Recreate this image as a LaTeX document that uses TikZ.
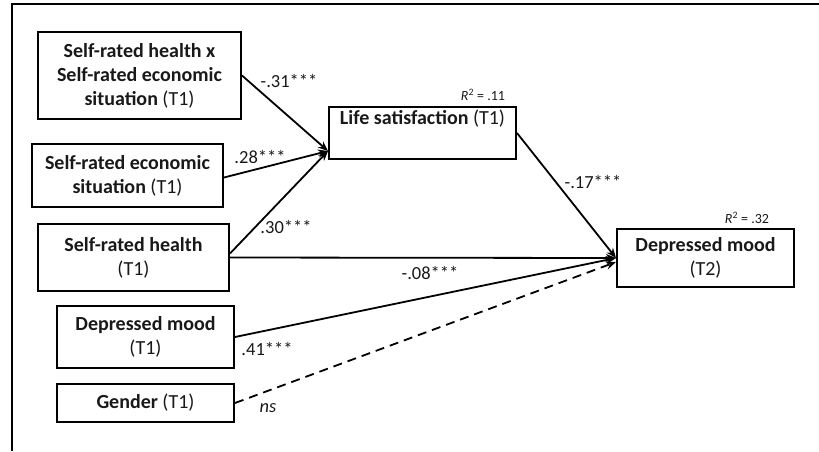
\documentclass[tikz,border=0pt]{standalone}
\usepackage{fontspec}
\setmainfont{Carlito}
\usetikzlibrary{arrows.meta}
\tikzset{
  box/.style={draw=black, line width=2pt, align=center, inner sep=0pt,
    font=\fontsize{20}{24}\selectfont, text=black!90},
  coef/.style={font=\fontsize{18.5}{20}\selectfont, text=black!90, inner sep=0pt},
  rsq/.style={font=\fontsize{14}{16}\selectfont, text=black!90, inner sep=0pt},
  path/.style={line width=1.8pt, -{Stealth[length=10pt,width=8pt]}},
}
\begin{document}
\begin{tikzpicture}[x=1pt,y=-1pt]
\useasboundingbox (0,0) rectangle (819,451);
\draw[line width=1.4pt] (12,451) -- (12,4) -- (819,4);

\node[box, minimum width=203pt, minimum height=87pt] (b1) at (139.5,75.5)
  {\textbf{Self-rated health x}\\\textbf{Self-rated economic}\\\textbf{situation} (T1)};
\node[box, minimum width=191pt, minimum height=63pt] (b2) at (127.5,175.5)
  {\textbf{Self-rated economic}\\\textbf{situation} (T1)};
\node[box, minimum width=191pt, minimum height=67pt] (b3) at (133.5,257.5)
  {\textbf{Self-rated health}\\(T1)};
\node[box, minimum width=177pt, minimum height=62pt] (b4) at (145.5,337)
  {\textbf{Depressed mood}\\(T1)};
\node[box, minimum width=177pt, minimum height=38pt] (b5) at (145.5,403)
  {\textbf{Gender} (T1)};
\node[box, minimum width=187pt, minimum height=52pt] (ls) at (422.5,133)
  {\textbf{Life satisfaction} (T1)\\\strut};
\node[box, minimum width=177pt, minimum height=58pt] (dm) at (705.5,258)
  {\textbf{Depressed mood}\\(T2)};

\node[rsq] (r1) at (483,95) {\textit{R}\textsuperscript{2} = .11};
\node[rsq] (r2) at (747,218) {\textit{R}\textsuperscript{2} = .32};

\draw[path] (b1.east) -- ([yshift=-18pt]ls.west);
\draw[path] ([yshift=-2pt]b2.east) -- ([yshift=-18pt]ls.west);
\draw[path] ([yshift=4pt]b3.east) -- ([yshift=-18pt]ls.west);
\draw[path] (b3.east) -- (dm.west);
\draw[path] (b4.east) -- (dm.west);
\draw[path, dashed, dash pattern=on 9pt off 6pt] (b5.east) -- ([yshift=-4pt]dm.west);
\draw[path] (ls.east) -- (dm.west);

\node[coef] (c1) at (289,81) {-.31***};
\node[coef] (c2) at (260,157) {.28***};
\node[coef] (c3) at (286,227) {.30***};
\node[coef] (c4) at (593,182) {-.17***};
\node[coef] (c5) at (430,273) {-.08***};
\node[coef] (c6) at (267,349) {.41***};
\node[coef] (c7) at (268,408) {\textit{ns}};
\end{tikzpicture}
\end{document}
